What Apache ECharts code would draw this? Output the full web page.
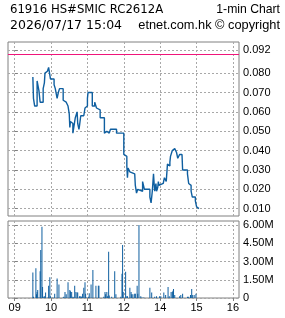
<!DOCTYPE html>
<html><head><meta charset="utf-8">
<script src="https://cdn.jsdelivr.net/npm/echarts@6/dist/echarts.min.js"></script>
<style>html,body{margin:0;padding:0;background:#fff}#c{width:285px;height:318px}</style>
</head><body><div id="c"></div>
<script>
// ---- data ----
const titleLeft1 = '61916 HS#SMIC RC2612A';
const titleRight1 = '1-min Chart';
const titleLeft2 = '2026/07/17 15:04';
const titleRight2 = 'etnet.com.hk \u00a9 copyright';
const prevClose = 0.092;
const hourTicks = ['09:00','10:00','11:00','12:00','14:00','15:00','16:00'];
const hourLabels = ['09','10','11','12','14','15','16'];
const priceTicks = [0.010,0.020,0.030,0.040,0.050,0.060,0.070,0.080,0.092];
const volumeTicks = [0,1500000,3000000,4500000,6000000];
const priceTimes = ['09:30','09:31','09:33','09:37','09:40','09:42','09:47','09:49','09:50','09:52','09:54','09:56','09:58','09:59',
 '10:05','10:07','10:10','10:12','10:14','10:20','10:22','10:25','10:28','10:30','10:31','10:32','10:34','10:36','10:37','10:40',
 '10:43','10:44','10:46','10:47','10:49','10:54','10:56','10:58','11:00','11:01','11:08','11:12','11:15','11:18','11:21','11:28',
 '11:30','11:32','11:33','11:36','11:38','11:48','13:00','13:02','13:05','13:06','13:07','13:10','13:12','13:18','13:19','13:21',
 '13:23','13:24','13:31','13:32','13:34','13:43','13:45','13:47','13:49','13:50','13:51','13:53','13:54','13:56','13:57','13:58',
 '14:01','14:05','14:06','14:07','14:10','14:12','14:13','14:14','14:16','14:17','14:19','14:20','14:22','14:24','14:27','14:29',
 '14:31','14:32','14:36','14:37','14:45','14:47','14:49','14:51','14:53','14:58','15:00','15:01','15:04'];
const prices = [0.078,0.067,0.063,0.076,0.071,0.065,0.072,0.075,0.080,0.081,0.082,0.083,0.082,0.077,
 0.074,0.072,0.067,0.070,0.072,0.066,0.065,0.064,0.063,0.059,0.052,0.055,0.054,0.049,0.051,0.057,
 0.060,0.054,0.051,0.053,0.058,0.059,0.062,0.063,0.067,0.070,0.063,0.065,0.062,0.061,0.057,0.049,
 0.050,0.051,0.049,0.050,0.051,0.049,0.038,0.037,0.032,0.026,0.031,0.029,0.028,0.027,0.022,0.018,
 0.020,0.019,0.024,0.023,0.020,0.016,0.013,0.019,0.028,0.023,0.019,0.023,0.019,0.021,0.024,0.022,
 0.023,0.024,0.023,0.026,0.024,0.033,0.034,0.032,0.034,0.037,0.038,0.040,0.041,0.040,0.039,0.036,
 0.037,0.038,0.037,0.030,0.028,0.023,0.022,0.019,0.016,0.014,0.011,0.010,0.010];
const volTimes = ['09:30','09:31','09:35','09:36','09:37','09:38','09:40','09:42','09:43','09:45','09:46','09:47','09:49','09:51','09:55','09:56','09:58','09:59',
 '10:03','10:06','10:10','10:13','10:20','10:21','10:23','10:25','10:28','10:31','10:32','10:34','10:36','10:37','10:39','10:41','10:43','10:44','10:47','10:49','10:50','10:52','10:54','10:56','10:57','10:58',
 '11:02','11:03','11:06','11:09','11:14','11:18','11:19','11:27','11:29','11:30','11:32','11:33','11:35','11:36','11:40','11:45','11:47','11:55','11:57','11:58','11:59',
 '13:03','13:05','13:06','13:10','13:12','13:13','13:15','13:18','13:19','13:22','13:23','13:25','13:28','13:30','13:33','13:43','13:46','13:51','13:54','13:59',
 '14:01','14:06','14:09','14:13','14:15','14:18','14:20','14:21','14:22','14:24','14:32','14:34','14:37','14:45','14:47','14:50','14:52','14:53','14:56','14:59'];
const volumes = [2100000,100000,2450000,300000,500000,650000,50000,2200000,3950000,5850000,900000,100000,150000,450000,50000,1000000,1700000,150000,
 50000,350000,1600000,1100000,50000,100000,500000,300000,1300000,650000,550000,500000,100000,50000,1000000,500000,450000,450000,150000,150000,100000,350000,850000,1300000,350000,50000,
 100000,400000,1100000,2300000,1000000,1000000,1000000,100000,500000,300000,500000,150000,3800000,200000,100000,2200000,300000,100000,2000000,4350000,500000,
 2150000,150000,150000,850000,500000,300000,300000,350000,350000,1000000,350000,6000000,150000,50000,50000,850000,450000,100000,150000,150000,
 150000,450000,250000,900000,150000,500000,500000,600000,750000,250000,150000,250000,350000,100000,100000,250000,750000,250000,250000,350000];

// trading-minute position (lunch 12:00-13:00 removed)
function pos(t){const [h,m]=t.split(':').map(Number);let v=(h-9)*60+m;if(h>=13)v-=60;return v;}

const priceData = priceTimes.map((t,i)=>[pos(t),prices[i]]);
const volData = volTimes.map((t,i)=>[pos(t),volumes[i]]);
const xTickVals = hourTicks.map(pos);
const labelMap = {}; xTickVals.forEach((v,i)=>labelMap[v]=hourLabels[i]);

const gridLine = {show:true,lineStyle:{color:'#a8a8a8',type:[2,2],width:1}};
const labelFont = {fontFamily:'Liberation Sans',fontSize:11,color:'#000'};
function fmtVol(v){return v===0?'0':(v/1e6).toFixed(2)+'M';}

const chart = echarts.init(document.getElementById('c'),null,{renderer:'canvas'});
chart.setOption({
  animation:false,
  backgroundColor:'#fff',
  graphic:[
    {type:'text',left:10,top:4,style:{text:titleLeft1,font:'11.7px "DejaVu Sans"',fill:'#000'}},
    {type:'text',right:5,top:4,style:{text:titleRight1,font:'12.2px "Liberation Sans"',fill:'#000'}},
    {type:'text',left:10,top:19,style:{text:titleLeft2,font:'12.5px "DejaVu Sans"',fill:'#000'}},
    {type:'text',right:5,top:19,style:{text:titleRight2,font:'12.8px "Liberation Sans"',fill:'#000'}}
  ],
  grid:[
    {left:8,top:42,width:231,height:174,show:true,borderColor:'#808080',borderWidth:1},
    {left:8,top:221,width:231,height:77,show:true,borderColor:'#808080',borderWidth:1}
  ],
  xAxis:[
    {type:'value',gridIndex:0,min:-11,max:370,axisLine:{show:false},axisTick:{show:false,customValues:xTickVals},
     axisLabel:{show:false,customValues:xTickVals},splitLine:gridLine},
    {type:'value',gridIndex:1,min:-11,max:370,axisLine:{show:false},
     axisTick:{show:true,customValues:xTickVals,length:3,lineStyle:{color:'#808080'}},
     axisLabel:Object.assign({customValues:xTickVals,margin:4,formatter:v=>labelMap[v]||''},labelFont),
     splitLine:gridLine}
  ],
  yAxis:[
    {type:'value',gridIndex:0,position:'right',min:0.0062,max:0.0961,axisLine:{show:false},
     axisTick:{show:true,customValues:priceTicks,length:3,lineStyle:{color:'#808080'}},
     axisLabel:Object.assign({customValues:priceTicks,margin:4,formatter:v=>v.toFixed(3)},labelFont),
     splitLine:gridLine},
    {type:'value',gridIndex:1,position:'right',min:0,max:6330000,axisLine:{show:false},
     axisTick:{show:true,customValues:volumeTicks,length:3,lineStyle:{color:'#808080'}},
     axisLabel:Object.assign({customValues:volumeTicks,margin:4,formatter:fmtVol},labelFont),
     splitLine:gridLine}
  ],
  series:[
    {type:'line',xAxisIndex:0,yAxisIndex:0,data:priceData,step:'end',showSymbol:false,
     lineStyle:{color:'#0f5fa0',width:1.4},
     markLine:{silent:true,symbol:'none',label:{show:false},lineStyle:{color:'#f0157a',width:1.2,type:'solid'},
       data:[{yAxis:prevClose}]}},
    {type:'bar',xAxisIndex:1,yAxisIndex:1,data:volData,barWidth:1,itemStyle:{color:'#0f5fa0'}}
  ]
});
</script></body></html>
